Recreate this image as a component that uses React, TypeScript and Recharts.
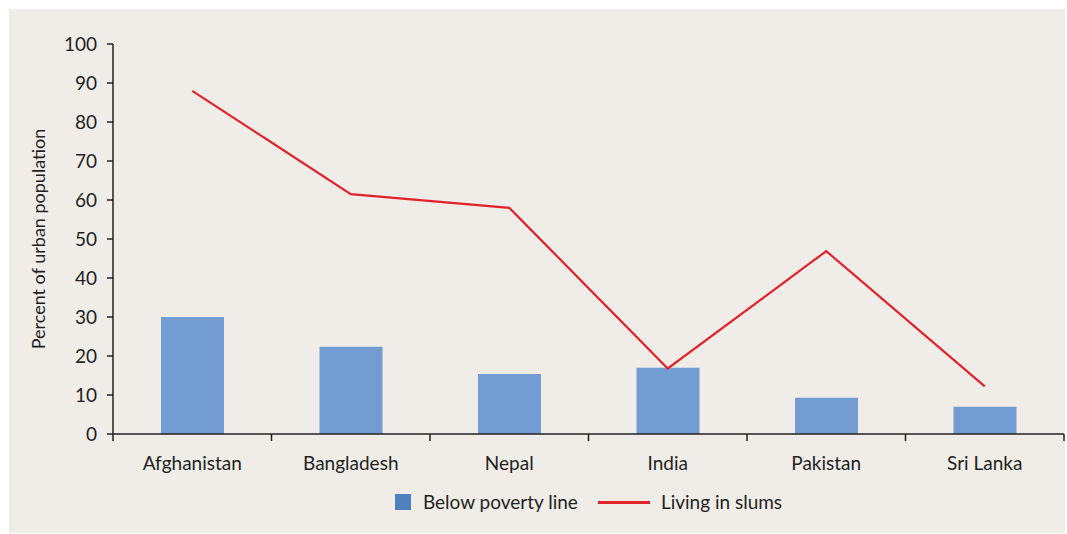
import { ComposedChart, Bar, Line, XAxis, YAxis, Legend } from 'recharts';

const countries = ['Afghanistan', 'Bangladesh', 'Nepal', 'India', 'Pakistan', 'Sri Lanka'];
const belowPoverty = [30, 22.4, 15.4, 17, 9.3, 7];
const livingInSlums = [88, 61.5, 58, 16.8, 46.9, 12.2];
const yTicks = [0, 10, 20, 30, 40, 50, 60, 70, 80, 90, 100];

const COLORS = {
  bar: '#739cd3',
  barLegend: '#4f80bf',
  line: '#e2232a',
  text: '#231f20',
  panel: '#f0ede9',
};

const FONT = 'Lato, "Noto Sans", sans-serif';
const CHART_W = 1056;
const CHART_H = 524;
const Y_AXIS_W = 104;
const RIGHT = 1;
const BAND = (CHART_W - Y_AXIS_W - RIGHT) / countries.length;

const data = countries.map((name, i) => ({
  name,
  'Below poverty line': belowPoverty[i],
  'Living in slums': livingInSlums[i],
}));

// category label in the middle, tick mark on the band edges
function CountryTick(props: any) {
  const { x, y, payload, index } = props;
  const half = BAND / 2;
  const top = y - 7;
  return (
    <g>
      <line x1={x - half} x2={x - half} y1={top} y2={y} stroke={COLORS.text} strokeWidth={1.5} />
      {index === countries.length - 1 && (
        <line x1={x + half} x2={x + half} y1={top} y2={y} stroke={COLORS.text} strokeWidth={1.5} />
      )}
      <text x={x} y={y} dy={29} textAnchor="middle" fill={COLORS.text} fontSize={19} fontFamily={FONT}>
        {payload.value}
      </text>
    </g>
  );
}

function YTitle(props: any) {
  const { viewBox } = props;
  const cx = viewBox.x + 29;
  const cy = viewBox.y + viewBox.height / 2;
  return (
    <text
      x={cx}
      y={cy}
      transform={`rotate(-90, ${cx}, ${cy})`}
      textAnchor="middle"
      dominantBaseline="central"
      fill={COLORS.text}
      fontSize={18}
      fontFamily={FONT}
    >
      Percent of urban population
    </text>
  );
}

function ChartLegend() {
  return (
    <div
      style={{
        height: 54,
        boxSizing: 'border-box',
        paddingTop: 14,
        paddingLeft: Y_AXIS_W,
        display: 'flex',
        justifyContent: 'center',
        alignItems: 'flex-start',
        fontFamily: FONT,
        fontSize: 19,
        color: COLORS.text,
        lineHeight: '18px',
      }}
    >
      <div style={{ display: 'flex', alignItems: 'center', marginRight: 20 }}>
        <span style={{ width: 16, height: 16, background: COLORS.barLegend, marginRight: 12 }} />
        <span>Below poverty line</span>
      </div>
      <div style={{ display: 'flex', alignItems: 'center' }}>
        <span style={{ width: 52, height: 3, background: COLORS.line, marginRight: 11 }} />
        <span>Living in slums</span>
      </div>
    </div>
  );
}

export default function App() {
  return (
    <div
      style={{
        position: 'fixed',
        top: 9,
        left: 9,
        width: CHART_W,
        height: CHART_H,
        background: COLORS.panel,
      }}
    >
      <ComposedChart
        width={CHART_W}
        height={CHART_H}
        data={data}
        margin={{ top: 35, right: RIGHT, left: 0, bottom: 0 }}
      >
        <XAxis
          dataKey="name"
          height={45}
          tickLine={false}
          tickSize={7}
          tickMargin={0}
          axisLine={{ stroke: COLORS.text, strokeWidth: 1.5 }}
          tick={CountryTick}
          interval={0}
        />
        <YAxis
          width={Y_AXIS_W}
          domain={[0, 100]}
          ticks={yTicks}
          interval={0}
          tickSize={6}
          tickMargin={10}
          axisLine={{ stroke: COLORS.text, strokeWidth: 1.5 }}
          tickLine={{ stroke: COLORS.text, strokeWidth: 1.5 }}
          tick={{ fill: COLORS.text, fontSize: 19, fontFamily: FONT }}
          label={YTitle}
        />
        <Legend verticalAlign="bottom" content={ChartLegend} />
        <Bar dataKey="Below poverty line" fill={COLORS.bar} barSize={63} isAnimationActive={false} />
        <Line
          type="linear"
          dataKey="Living in slums"
          stroke={COLORS.line}
          strokeWidth={2.2}
          dot={false}
          activeDot={false}
          isAnimationActive={false}
        />
      </ComposedChart>
    </div>
  );
}
